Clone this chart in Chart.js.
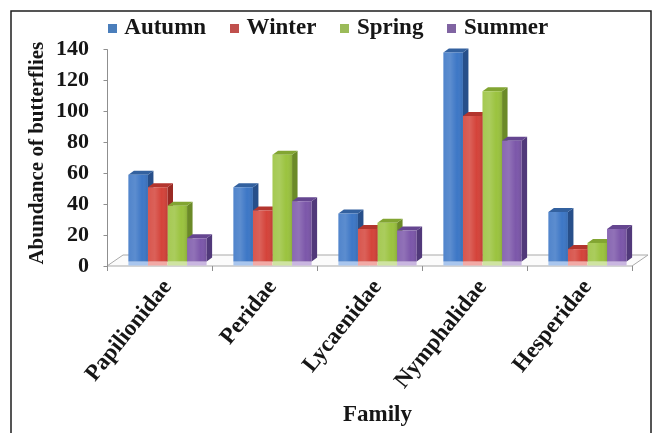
<!DOCTYPE html>
<html>
<head>
<meta charset="utf-8">
<script src="https://cdn.jsdelivr.net/npm/chart.js@4"></script>
<style>
  html, body { margin: 0; padding: 0; background: #fff; }
  #wrap { width: 660px; height: 433px; position: relative; }
</style>
</head>
<body>
<div id="wrap"><canvas id="c" width="660" height="433"></canvas></div>
<script>
// Butterfly abundance per family, by season
const families = ['Papilionidae', 'Peridae', 'Lycaenidae', 'Nymphalidae', 'Hesperidae'];
const seasons  = ['Autumn', 'Winter', 'Spring', 'Summer'];
const autumn = [56, 48, 31, 135, 32];
const winter = [48, 33, 21, 94, 8];
const spring = [36, 69, 25, 110, 12];
const summer = [15, 39, 20, 78, 21];
const valueTicks = [0, 20, 40, 60, 80, 100, 120, 140];

const seriesValues = [autumn, winter, spring, summer];
const frontColors  = ['#3d77c6', '#d4433a', '#9bc33f', '#7c57aa'];
const sideColors   = ['#274f8a', '#9a2a24', '#6b8a27', '#51397a'];
const topColors    = ['#33619f', '#b3352e', '#82a532', '#654690'];
const baseTints    = ['#a9c6ee', '#f2aaa6', '#cfe3a2', '#c9b6e0'];
const legendColors = ['#4a7ebb', '#c0504d', '#9bbb59', '#8064a2'];

const SERIF = "'Liberation Serif', 'Times New Roman', serif";
const INK = '#161616';

// 3-D look: bar depth, floor depth and how far the floor's front edge sits from the plot box
const BAR_DX = 5.5, BAR_DY = -4;
const FLOOR_DX = 16, FLOOR_DY = -11;
const FRONT_DX = -8, FRONT_DY = 4.5;

// legend row: item spacing doubles as its top inset, so the box starts above the canvas
const LEGEND_PAD = 28;
const LEGEND_TOP = -11;
const PLOT_TOP = 44.8;

// small square swatches for the legend
function swatch(color) {
  const c = document.createElement('canvas');
  c.width = 9; c.height = 9;
  const g = c.getContext('2d');
  g.fillStyle = color;
  g.fillRect(0, 0, 9, 9);
  return c;
}
const swatches = legendColors.map(swatch);

const legendHeight = {
  id: 'legendHeight',
  beforeLayout(chart) {
    const lg = chart.legend;
    if (lg && !lg._fixedFit) {
      const fit = lg.fit;
      lg.fit = function () { fit.call(this); this.height = PLOT_TOP - LEGEND_TOP; };
      lg._fixedFit = true;
    }
  }
};

function barGeom(bar) {
  const { x, y, width, base } = bar.getProps(['x', 'y', 'width', 'base'], true);
  return { l: x - width / 2, r: x + width / 2, y, width, base };
}

const bars3d = {
  id: 'bars3d',
  beforeDatasetsDraw(chart) {
    const { ctx, chartArea } = chart;
    const x = chart.scales.x, y = chart.scales.y;
    const B = y.getPixelForValue(0) + FRONT_DY;
    const L = chartArea.left + FRONT_DX, R = chartArea.right + FRONT_DX;
    ctx.save();
    // floor
    ctx.beginPath();
    ctx.moveTo(L, B);
    ctx.lineTo(R, B);
    ctx.lineTo(R + FLOOR_DX, B + FLOOR_DY);
    ctx.lineTo(L + FLOOR_DX, B + FLOOR_DY);
    ctx.closePath();
    ctx.fillStyle = '#fbfbfb';
    ctx.fill();
    ctx.strokeStyle = '#a9a9a9';
    ctx.lineWidth = 1;
    ctx.stroke();
    // category tick marks along the floor's front edge
    ctx.strokeStyle = '#8f8f8f';
    for (let i = 0; i <= families.length; i++) {
      const px = Math.round(x.getPixelForValue(i - 0.5) + FRONT_DX) + 0.5;
      ctx.beginPath();
      ctx.moveTo(px, B);
      ctx.lineTo(px, B + 5);
      ctx.stroke();
    }
    // value axis line with its tick marks
    const ax = Math.round(L) + 0.5;
    ctx.beginPath();
    ctx.moveTo(ax, y.getPixelForValue(valueTicks[valueTicks.length - 1]) + FRONT_DY);
    ctx.lineTo(ax, B);
    ctx.stroke();
    valueTicks.forEach(v => {
      const py = Math.round(y.getPixelForValue(v) + FRONT_DY) + 0.5;
      ctx.beginPath();
      ctx.moveTo(ax - 4, py);
      ctx.lineTo(ax, py);
      ctx.stroke();
    });

    // sides and tops of the bars, left series first so the next bar's front covers them
    seasons.forEach((s, i) => {
      chart.getDatasetMeta(i).data.forEach(bar => {
        const { l, r, y: t, width, base } = barGeom(bar);
        ctx.fillStyle = baseTints[i];
        ctx.fillRect(l, base, width, 4);
        ctx.beginPath();
        ctx.moveTo(r, t);
        ctx.lineTo(r + BAR_DX, t + BAR_DY);
        ctx.lineTo(r + BAR_DX, base + BAR_DY);
        ctx.lineTo(r, base);
        ctx.closePath();
        ctx.fillStyle = sideColors[i];
        ctx.fill();
        ctx.beginPath();
        ctx.moveTo(l, t);
        ctx.lineTo(l + BAR_DX, t + BAR_DY);
        ctx.lineTo(r + BAR_DX, t + BAR_DY);
        ctx.lineTo(r, t);
        ctx.closePath();
        ctx.fillStyle = topColors[i];
        ctx.fill();
      });
    });
    ctx.restore();
  },
  afterDatasetsDraw(chart) {
    const { ctx } = chart;
    ctx.save();
    seasons.forEach((s, i) => {
      chart.getDatasetMeta(i).data.forEach(bar => {
        const { l, y: t, width, base } = barGeom(bar);
        const g = ctx.createLinearGradient(l, 0, l + width, 0);
        g.addColorStop(0, 'rgba(255,255,255,0.10)');
        g.addColorStop(0.35, 'rgba(255,255,255,0.16)');
        g.addColorStop(0.7, 'rgba(255,255,255,0)');
        g.addColorStop(1, 'rgba(0,0,0,0.10)');
        ctx.fillStyle = g;
        ctx.fillRect(l, t, width, base - t);
      });
    });
    ctx.restore();
  },
  afterDraw(chart) {
    const { ctx } = chart;
    ctx.save();
    ctx.strokeStyle = '#1e1e1e';
    ctx.lineWidth = 1.5;
    ctx.strokeRect(11, 11, 640, 440);
    ctx.restore();
  }
};

const datasets = seasons.map((name, i) => ({
  label: name,
  data: seriesValues[i],
  backgroundColor: frontColors[i],
  borderWidth: 0,
  clip: false
}));

new Chart(document.getElementById('c'), {
  type: 'bar',
  data: { labels: families, datasets },
  plugins: [legendHeight, bars3d],
  options: {
    responsive: false,
    animation: false,
    events: [],
    layout: { padding: { top: LEGEND_TOP, left: 20, right: 20, bottom: 4 } },
    datasets: { bar: { categoryPercentage: 0.745, barPercentage: 1 } },
    plugins: {
      legend: {
        position: 'top',
        labels: {
          font: { family: SERIF, size: 23, weight: 'bold' },
          color: INK,
          usePointStyle: true,
          boxWidth: 1,
          boxHeight: 9,
          padding: LEGEND_PAD,
          generateLabels: chart =>
            Chart.defaults.plugins.legend.labels.generateLabels(chart)
              .map(item => Object.assign(item, { pointStyle: swatches[item.datasetIndex] }))
        }
      },
      tooltip: { enabled: false }
    },
    scales: {
      x: {
        grid: { display: false, drawTicks: false },
        border: { display: false },
        ticks: {
          font: { family: SERIF, size: 23, weight: 'bold' },
          color: INK,
          minRotation: 51,
          maxRotation: 51,
          autoSkip: false,
          padding: 13
        },
        title: {
          display: true,
          text: 'Family',
          font: { family: SERIF, size: 23, weight: 'bold' },
          color: INK,
          padding: 0
        },
        afterFit: s => { s.height = 167.5; }
      },
      y: {
        min: valueTicks[0],
        max: valueTicks[valueTicks.length - 1],
        afterBuildTicks: s => { s.ticks = valueTicks.map(v => ({ value: v })); },
        grid: { display: false, drawTicks: false },
        border: { display: false },
        ticks: {
          font: { family: SERIF, size: 22, weight: 'bold' },
          color: INK,
          padding: 26,
          labelOffset: 4.5
        },
        title: {
          display: true,
          text: 'Abundance of butterflies',
          font: { family: SERIF, size: 21, weight: 'bold' },
          color: INK,
          padding: { top: 5, bottom: 0 }
        },
        afterFit: s => { s.width = 95; }
      }
    }
  }
});
</script>
</body>
</html>
